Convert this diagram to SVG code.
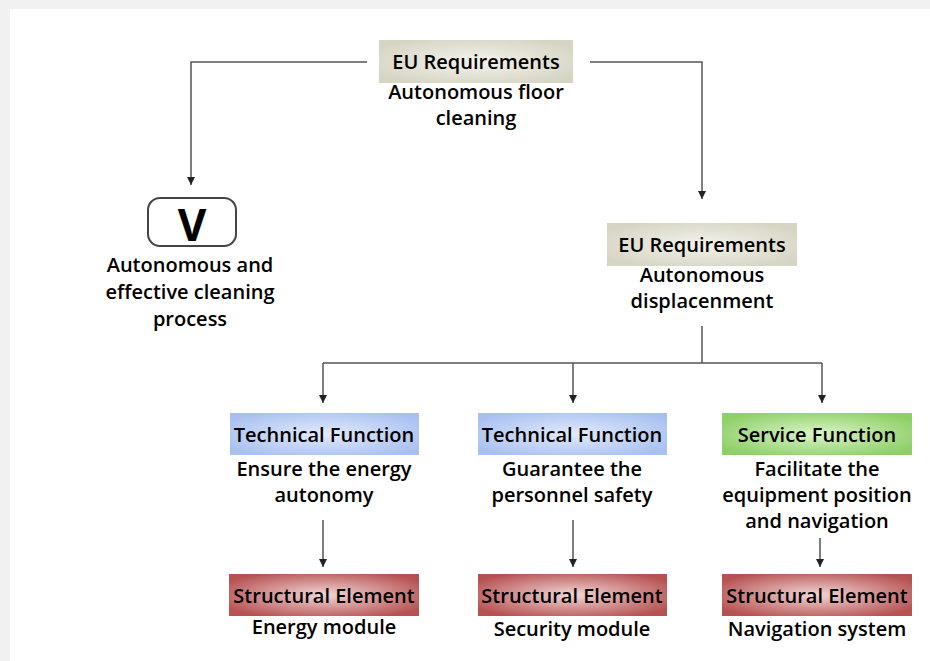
<svg xmlns="http://www.w3.org/2000/svg" width="930" height="661" viewBox="0 0 930 661">
<defs>
<style>
text{font-family:"Open Sans","Noto Sans","DejaVu Sans",sans-serif;font-weight:600;fill:#000;text-anchor:middle;}
.h{font-size:20px;}
.t{font-size:20px;}
.c{fill:none;stroke:#555;stroke-width:1.5;}
</style>
<radialGradient id="gB" cx="50%" cy="50%" r="60%"><stop offset="0" stop-color="#f4f3ec"/><stop offset="1" stop-color="#d6d4c3"/></radialGradient>
<radialGradient id="gT" cx="50%" cy="50%" r="60%"><stop offset="0" stop-color="#e2eafc"/><stop offset="1" stop-color="#a9c1f1"/></radialGradient>
<radialGradient id="gG" cx="50%" cy="50%" r="60%"><stop offset="0" stop-color="#d9f4c7"/><stop offset="1" stop-color="#8ecf66"/></radialGradient>
<radialGradient id="gR" cx="50%" cy="50%" r="60%"><stop offset="0" stop-color="#f3d6d6"/><stop offset="1" stop-color="#b65252"/></radialGradient>
<marker id="a" viewBox="0 0 10 10" refX="10" refY="5" markerWidth="8" markerHeight="8" markerUnits="userSpaceOnUse" orient="auto"><path d="M0,0L10,5L0,10z" fill="#222"/></marker>
</defs>
<rect width="930" height="661" fill="#f1f1f1"/>
<rect x="10" y="9" width="920" height="652" fill="#fff"/>
<g id="connectors">
<path class="c" d="M367,62H191V185" marker-end="url(#a)"/>
<path class="c" d="M590,62H702V199" marker-end="url(#a)"/>
<path class="c" d="M702,326V363"/>
<path class="c" d="M323,363H822"/>
<path class="c" d="M323,363V403" marker-end="url(#a)"/>
<path class="c" d="M573,363V403" marker-end="url(#a)"/>
<path class="c" d="M822,363V403" marker-end="url(#a)"/>
<path class="c" d="M323,520V567" marker-end="url(#a)"/>
<path class="c" d="M573,520V567" marker-end="url(#a)"/>
<path class="c" d="M820,538V567" marker-end="url(#a)"/>
</g>
<g id="eu1">
<rect x="379" y="40" width="194" height="43" fill="url(#gB)"/>
<text class="h" x="476" y="69">EU Requirements</text>
<text class="t" x="476" y="99">Autonomous floor</text>
<text class="t" x="476" y="125">cleaning</text>
</g>
<g id="v">
<rect x="148" y="198" width="88" height="48" rx="12" fill="#fff" stroke="#444" stroke-width="2"/>
<text x="192" y="241" style="font-size:44px;font-weight:700;">V</text>
<text class="t" x="190" y="272">Autonomous and</text>
<text class="t" x="190" y="299">effective cleaning</text>
<text class="t" x="190" y="326">process</text>
</g>
<g id="eu2">
<rect x="607" y="223" width="190" height="43" fill="url(#gB)"/>
<text class="h" x="702" y="252">EU Requirements</text>
<text class="t" x="702" y="282">Autonomous</text>
<text class="t" x="702" y="308">displacenment</text>
</g>
<g id="tf1">
<rect x="230" y="413" width="189" height="42" fill="url(#gT)"/>
<text class="h" x="324" y="442">Technical Function</text>
<text class="t" x="324" y="476">Ensure the energy</text>
<text class="t" x="324" y="502">autonomy</text>
</g>
<g id="tf2">
<rect x="478" y="413" width="189" height="42" fill="url(#gT)"/>
<text class="h" x="572" y="442">Technical Function</text>
<text class="t" x="572" y="476">Guarantee the</text>
<text class="t" x="572" y="502">personnel safety</text>
</g>
<g id="sf">
<rect x="722" y="413" width="190" height="42" fill="url(#gG)"/>
<text class="h" x="817" y="442">Service Function</text>
<text class="t" x="817" y="476">Facilitate the</text>
<text class="t" x="817" y="502">equipment position</text>
<text class="t" x="817" y="528">and navigation</text>
</g>
<g id="se1">
<rect x="229" y="574" width="190" height="42" fill="url(#gR)"/>
<text class="h" x="324" y="603">Structural Element</text>
<text class="t" x="324" y="634">Energy module</text>
</g>
<g id="se2">
<rect x="478" y="574" width="189" height="42" fill="url(#gR)"/>
<text class="h" x="572" y="603">Structural Element</text>
<text class="t" x="572" y="636">Security module</text>
</g>
<g id="se3">
<rect x="722" y="574" width="190" height="42" fill="url(#gR)"/>
<text class="h" x="817" y="603">Structural Element</text>
<text class="t" x="817" y="636">Navigation system</text>
</g>
</svg>
